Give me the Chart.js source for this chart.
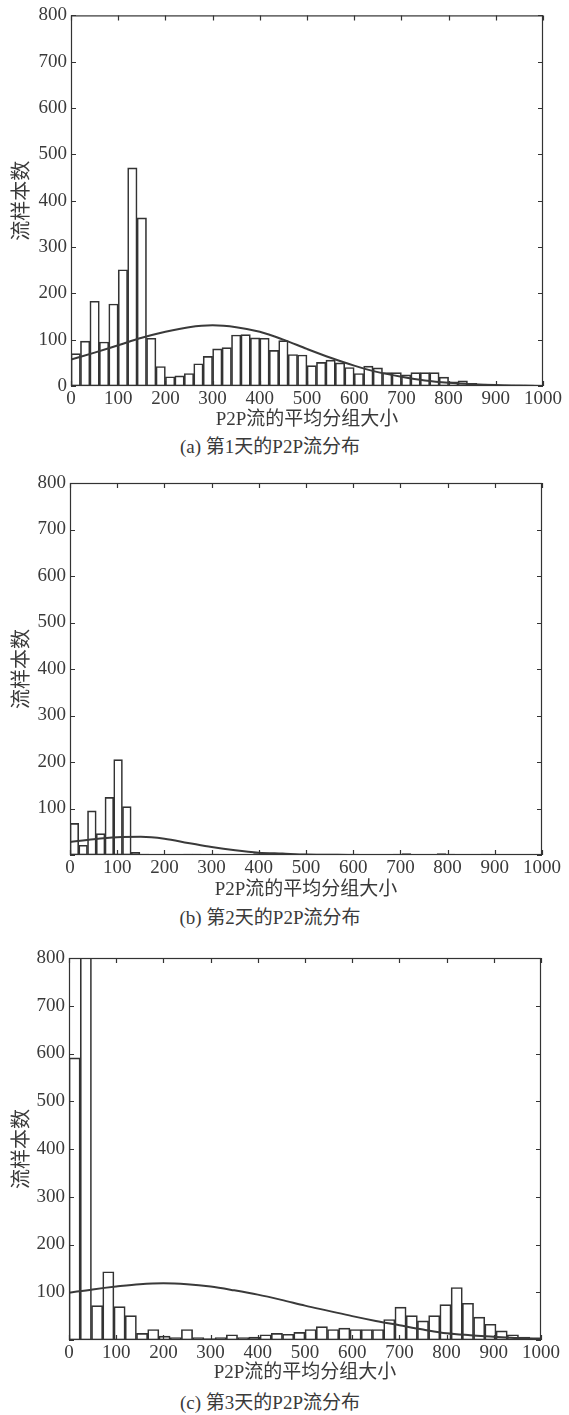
<!DOCTYPE html>
<html lang="zh">
<head>
<meta charset="utf-8">
<title>P2P流分布</title>
<script src="https://cdn.jsdelivr.net/npm/chart.js@4.4.1/dist/chart.umd.min.js"></script>
<style>
  html, body { margin: 0; padding: 0; background: #fff; }
  body { width: 569px; height: 1415px; position: relative; overflow: hidden;
         font-family: 'Liberation Serif', 'Times New Roman', 'DejaVu Serif', 'Noto Sans CJK SC', serif; color: #3a3a3a; }
  canvas { position: absolute; left: 0; }
  .caption { position: absolute; left: 0; width: 540px; text-align: center;
             font-size: 19px; line-height: 20px; }
</style>
</head>
<body>
<canvas id="chart1" width="569" height="431" style="top:0px"></canvas>
<div class="caption" style="top:437px">(a) 第1天的P2P流分布</div>
<canvas id="chart2" width="569" height="436" style="top:465px"></canvas>
<div class="caption" style="top:908px">(b) 第2天的P2P流分布</div>
<canvas id="chart3" width="569" height="444" style="top:940px"></canvas>
<div class="caption" style="top:1393px">(c) 第3天的P2P流分布</div>

<script>
// flow counts per histogram bin (bins split 0..1000 evenly)
const counts1 = [70, 97, 183, 95, 177, 251, 471, 363, 103, 42,
                 20, 22, 27, 48, 64, 80, 83, 110, 111, 104,
                 103, 77, 98, 68, 67, 44, 51, 56, 50, 40,
                 27, 43, 39, 29, 29, 24, 29, 29, 29, 19,
                 9, 11, 6, 4, 3, 1, 2, 1, 2, 1];
const counts2 = [68, 21, 95, 46, 124, 205, 104, 6, 2, 1,
                 0, 0, 1, 2, 2, 1, 2, 1, 0, 0,
                 1, 3, 2, 2, 2, 2, 2, 1, 1, 1,
                 1, 0, 2, 0, 1, 0, 0, 2, 3, 1,
                 1, 1, 3, 2, 1, 0, 0, 2, 1, 0,
                 0, 0, 0, 0];
const counts3 = [591, 1500, 72, 143, 70, 51, 14, 22, 8, 5,
                 22, 5, 3, 5, 11, 5, 6, 11, 14, 12,
                 16, 22, 28, 22, 25, 22, 22, 22, 43, 69,
                 51, 40, 51, 74, 110, 77, 48, 33, 19, 11,
                 6, 3];

// fitted curve
const curveX = [0, 50, 100, 150, 200, 250, 300, 350, 400, 450, 500,
                550, 600, 650, 700, 750, 800, 850, 900, 950, 1000];
const curve1 = [57, 72, 88, 104, 117, 127, 131, 127, 117, 100, 80,
                61, 44, 30, 20, 12, 7, 4, 2, 1, 0];
const curve2 = [28, 34, 38, 39, 35, 26, 17, 10, 5, 3, 1,
                0.5, 0, 0, 0, 0, 0, 0, 0, 0, 0];
const curve3 = [99, 106, 112, 117, 119, 117, 112, 104, 95, 84, 72,
                61, 50, 40, 31, 22, 14, 10, 7, 4, 3];

const xTitle = 'P2P流的平均分组大小';
const yTitle = '流样本数';

const ink = '#333';
const textColor = '#3a3a3a';

Chart.defaults.font.family = "'Liberation Serif', 'Times New Roman', 'DejaVu Serif', 'Noto Sans CJK SC', serif";
Chart.defaults.color = textColor;

// box around the plot with inward tick marks on all four sides
const frameTicks = {
  id: 'frameTicks',
  afterDraw(chart) {
    const { ctx, chartArea: a, scales: { x, y } } = chart;
    ctx.save();
    ctx.strokeStyle = ink;
    ctx.lineWidth = 1.2;
    ctx.strokeRect(a.left + 0.5, a.top + 0.5, a.right - a.left - 1, a.bottom - a.top - 1);
    ctx.beginPath();
    x.ticks.forEach(t => {
      const px = Math.round(x.getPixelForValue(t.value)) + 0.5;
      ctx.moveTo(px, a.bottom); ctx.lineTo(px, a.bottom - 5);
      ctx.moveTo(px, a.top); ctx.lineTo(px, a.top + 5);
    });
    y.ticks.forEach(t => {
      const py = Math.round(y.getPixelForValue(t.value)) + 0.5;
      ctx.moveTo(a.left, py); ctx.lineTo(a.left + 5, py);
      ctx.moveTo(a.right, py); ctx.lineTo(a.right - 5, py);
    });
    ctx.stroke();
    ctx.restore();
  }
};

function makeChart(id, counts, curve, box) {
  const binLabels = counts.map((c, i) => String(i));
  const line = curveX.map((v, i) => ({ x: v, y: curve[i] }));

  return new Chart(document.getElementById(id), {
    type: 'bar',
    data: {
      labels: binLabels,
      datasets: [{
        type: 'line',
        xAxisID: 'x',
        data: line,
        borderColor: '#3a3a3a',
        borderWidth: 2,
        pointRadius: 0,
        cubicInterpolationMode: 'monotone',
        fill: false,
        order: 0,
        clip: 0
      }, {
        xAxisID: 'bins',
        data: counts,
        backgroundColor: 'rgba(255,255,255,0)',
        borderColor: ink,
        borderWidth: 1,
        borderSkipped: false,
        grouped: false,
        barPercentage: 1,
        categoryPercentage: 1,
        order: 1,
        clip: 0
      }]
    },
    plugins: [frameTicks],
    options: {
      responsive: false,
      devicePixelRatio: 1,
      animation: false,
      layout: { padding: { top: box.top, left: 0, right: 569 - box.right, bottom: 0 } },
      plugins: { legend: { display: false }, tooltip: { enabled: false } },
      scales: {
        bins: {
          type: 'category',
          axis: 'x',
          position: 'bottom',
          display: false,
          offset: true,
          ticks: { autoSkip: false }
        },
        x: {
          type: 'linear',
          position: 'bottom',
          min: 0,
          max: 1000,
          offset: false,
          grid: { display: false, drawTicks: false },
          border: { display: false },
          ticks: { stepSize: 100, autoSkip: false, maxRotation: 0, padding: 2,
                   font: { size: 19 }, color: textColor,
                   callback: v => String(v) },
          title: { display: true, text: xTitle, font: { size: 19 },
                   padding: { top: 0, bottom: 0 }, color: textColor },
          afterFit(s) { s.height = box.xHeight; s.paddingLeft = 0; s.paddingRight = 0; }
        },
        y: {
          min: 0,
          max: 800,
          grid: { display: false, drawTicks: false },
          border: { display: false },
          ticks: {
            stepSize: 100, padding: 4, font: { size: 19 }, color: textColor,
            callback: v => (v === 0 && !box.showZero) ? '' : String(v)
          },
          title: { display: true, text: yTitle, font: { size: 20 },
                   padding: { top: 11, bottom: 0 }, color: textColor },
          afterFit(s) { s.width = box.left; }
        }
      }
    }
  });
}

document.addEventListener('DOMContentLoaded', function () {
  makeChart('chart1', counts1, curve1, { top: 15, left: 71, right: 543, xHeight: 45, showZero: true });
  makeChart('chart2', counts2, curve2, { top: 18, left: 70, right: 542, xHeight: 46, showZero: false });
  makeChart('chart3', counts3, curve3, { top: 18, left: 69, right: 541, xHeight: 44, showZero: false });
});
</script>
</body>
</html>
